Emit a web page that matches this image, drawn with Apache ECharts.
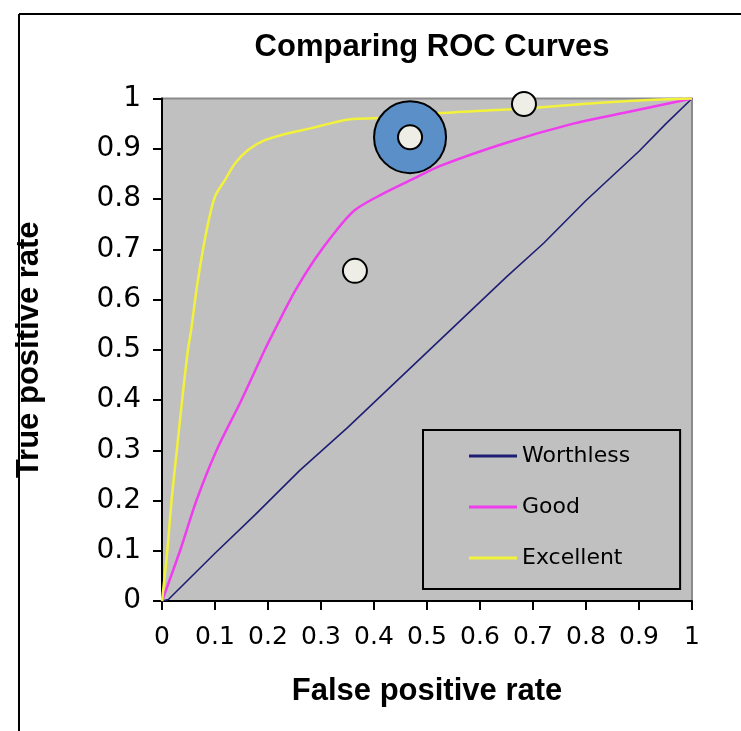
<!DOCTYPE html>
<html>
<head>
<meta charset="utf-8">
<script src="https://cdn.jsdelivr.net/npm/echarts@6/dist/echarts.min.js"></script>
<style>
  html, body { margin: 0; padding: 0; background: #ffffff; }
  #chart { width: 741px; height: 731px; }
</style>
</head>
<body>
<div id="chart"></div>
<script>
// ---- Data ----
var chartTitle = 'Comparing ROC Curves';
var xAxisTitle = 'False positive rate';
var yAxisTitle = 'True positive rate';
var tickLabels = ['0', '0.1', '0.2', '0.3', '0.4', '0.5', '0.6', '0.7', '0.8', '0.9', '1'];
var seriesNames = ['Worthless', 'Good', 'Excellent'];

var worthlessX = [0, 0.012, 0.1, 0.175, 0.26, 0.35, 0.45, 0.55, 0.65, 0.72, 0.8, 0.9, 0.951, 1];
var worthlessY = [0, 0.003, 0.095, 0.171, 0.26, 0.345, 0.445, 0.545, 0.645, 0.712, 0.797, 0.895, 0.95, 1];

var goodX = [0, 0.034, 0.065, 0.103, 0.15, 0.194, 0.213, 0.25, 0.287, 0.324, 0.364, 0.418, 0.474, 0.525, 0.65, 0.776, 0.87, 1];
var goodY = [0, 0.1, 0.2, 0.3, 0.4, 0.5, 0.54, 0.615, 0.678, 0.731, 0.778, 0.811, 0.84, 0.866, 0.912, 0.95, 0.971, 1];

var excellentX = [0, 0.01, 0.018, 0.028, 0.038, 0.049, 0.055, 0.065, 0.075, 0.087, 0.1, 0.119, 0.138, 0.163, 0.194, 0.238, 0.282, 0.32, 0.358, 0.411, 0.525, 0.682, 0.808, 0.902, 1];
var excellentY = [0, 0.1, 0.2, 0.3, 0.4, 0.5, 0.539, 0.619, 0.685, 0.752, 0.805, 0.838, 0.871, 0.898, 0.917, 0.931, 0.941, 0.951, 0.959, 0.961, 0.971, 0.98, 0.99, 0.996, 1];

// overlay circles (annotation markers)
var bigCircleX = [0.468];
var bigCircleY = [0.923];
var smallCircleX = [0.468, 0.683, 0.364];
var smallCircleY = [0.923, 0.989, 0.657];

function zip(xs, ys) { return xs.map(function (x, i) { return [x, ys[i]]; }); }

var chart = echarts.init(document.getElementById('chart'), null, { renderer: 'canvas' });

var boldFont = "'Liberation Sans', Arial, sans-serif";
var tickFont = "'DejaVu Sans', sans-serif";

var option = {
  backgroundColor: '#ffffff',
  animation: false,
  title: {
    text: chartTitle,
    left: 427,
    top: 27,
    textAlign: 'center',
    textStyle: { fontFamily: boldFont, fontWeight: 'bold', fontSize: 31, color: '#000' }
  },
  legend: {
    data: seriesNames,
    orient: 'vertical',
    left: 423,
    top: 430,
    padding: [15, 50, 20, 46],
    itemGap: 29,
    itemWidth: 48,
    itemHeight: 3,
    icon: 'rect',
    borderColor: '#000',
    borderWidth: 2,
    backgroundColor: '#c0c0c0',
    selectedMode: false,
    textStyle: { fontFamily: tickFont, fontSize: 22, color: '#000', lineHeight: 22 }
  },
  grid: {
    left: 162, top: 98.5, right: 49, bottom: 130,
    show: true,
    backgroundColor: '#c0c0c0',
    borderColor: '#8a8a8a',
    borderWidth: 2
  },
  xAxis: {
    type: 'value', min: 0, max: 1, interval: 0.1,
    name: xAxisTitle,
    nameLocation: 'middle',
    nameGap: 75,
    nameTextStyle: { fontFamily: boldFont, fontWeight: 'bold', fontSize: 31, color: '#000' },
    axisLine: { show: true, onZero: false, lineStyle: { color: '#000', width: 2 } },
    axisTick: { show: true, inside: false, length: 9, lineStyle: { color: '#000', width: 2 } },
    axisLabel: {
      margin: 24, fontFamily: tickFont, fontSize: 25, color: '#000',
      formatter: function (v) { return tickLabels[Math.round(v * 10)]; }
    },
    splitLine: { show: false }
  },
  yAxis: {
    type: 'value', min: 0, max: 1, interval: 0.1,
    name: yAxisTitle,
    nameLocation: 'middle',
    nameGap: 117,
    nameRotate: 90,
    nameTextStyle: { fontFamily: boldFont, fontWeight: 'bold', fontSize: 31, color: '#000' },
    axisLine: { show: true, onZero: false, lineStyle: { color: '#000', width: 2 } },
    axisTick: { show: true, inside: false, length: 9, lineStyle: { color: '#000', width: 2 } },
    axisLabel: {
      margin: 21, fontFamily: tickFont, fontSize: 28, color: '#000',
      formatter: function (v) { return tickLabels[Math.round(v * 10)]; }
    },
    splitLine: { show: false }
  },
  graphic: [
    { type: 'line', shape: { x1: 19, y1: 14, x2: 741, y2: 14 }, style: { stroke: '#000', lineWidth: 2 }, z: 100 },
    { type: 'line', shape: { x1: 19, y1: 14, x2: 19, y2: 731 }, style: { stroke: '#000', lineWidth: 2 }, z: 100 }
  ],
  series: [
    {
      name: 'Worthless', type: 'line', data: zip(worthlessX, worthlessY),
      showSymbol: false, symbol: 'none', smooth: false,
      lineStyle: { color: '#1e1e74', width: 1.6 }, itemStyle: { color: '#1e1e74' }, z: 2
    },
    {
      name: 'Good', type: 'line', data: zip(goodX, goodY),
      showSymbol: false, symbol: 'none', smooth: 0.3,
      lineStyle: { color: '#ee3cee', width: 2.5 }, itemStyle: { color: '#ee3cee' }, z: 3
    },
    {
      name: 'Excellent', type: 'line', data: zip(excellentX, excellentY),
      showSymbol: false, symbol: 'none', smooth: 0.3,
      lineStyle: { color: '#f2f23c', width: 2.5 }, itemStyle: { color: '#f2f23c' }, z: 4
    },
    {
      name: 'bigCircle', type: 'scatter', data: zip(bigCircleX, bigCircleY),
      symbol: 'circle', symbolSize: 72, silent: true,
      itemStyle: { color: '#5b8fc8', borderColor: '#000', borderWidth: 2, opacity: 1 }, z: 10
    },
    {
      name: 'smallCircles', type: 'scatter', data: zip(smallCircleX, smallCircleY),
      symbol: 'circle', symbolSize: 24, silent: true,
      itemStyle: { color: '#eeeee6', borderColor: '#000', borderWidth: 2, opacity: 1 }, z: 11
    }
  ]
};

chart.setOption(option);
</script>
</body>
</html>
